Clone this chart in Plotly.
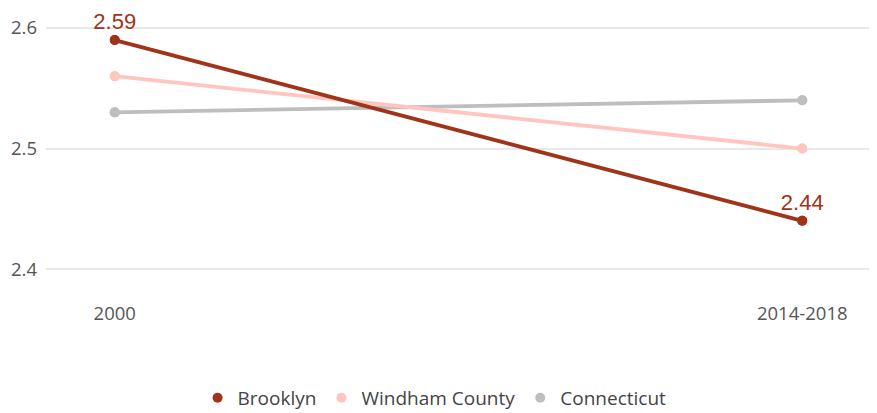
import plotly.graph_objects as go

years = ["2000", "2014-2018"]
brooklyn = [2.59, 2.44]
windham = [2.56, 2.50]
connecticut = [2.53, 2.54]
brooklyn_labels = ["2.59", "2.44"]

names = ["Brooklyn", "Windham County", "Connecticut"]
colors = ["#A0341A", "#FFC5BE", "#BEBEBE"]
series = [brooklyn, windham, connecticut]

fig = go.Figure()
for i in [2, 1, 0]:
    fig.add_trace(go.Scatter(
        x=years, y=series[i], mode="lines+markers",
        line=dict(color=colors[i], width=3.8),
        marker=dict(color=colors[i], size=10),
        showlegend=False, hoverinfo="skip",
    ))
for i in range(3):
    fig.add_trace(go.Scatter(
        x=years, y=series[i], mode="markers",
        marker=dict(color=colors[i], size=10),
        name=names[i], showlegend=True, hoverinfo="skip",
    ))

fig.add_trace(go.Scatter(
    x=years, y=brooklyn, mode="markers+text", text=brooklyn_labels,
    textposition="top center", cliponaxis=False,
    marker=dict(size=7, opacity=0),
    textfont=dict(family="Liberation Sans, Arial", size=22, color=colors[0]),
    showlegend=False, hoverinfo="skip",
))

fig.update_layout(
    width=869, height=413,
    margin=dict(l=38, r=6, t=0, b=121),
    paper_bgcolor="white", plot_bgcolor="white",
    font=dict(family="Open Sans", size=18.5, color="#555555"),
    xaxis=dict(type="category", range=[-0.1, 1.1], showgrid=False,
               zeroline=False, showline=False, ticks="",
               tickfont=dict(family="Open Sans", size=18.5, color="#555555")),
    yaxis=dict(range=[2.3743, 2.6166], tickvals=[2.4, 2.5, 2.6],
               ticktext=["2.4", "2.5", "2.6"],
               showgrid=True, gridcolor="#E8E8E8", gridwidth=2,
               zeroline=False, showline=False, ticks="",
               ticklabelstandoff=8,
               tickfont=dict(family="Open Sans", size=18.5, color="#555555")),
    legend=dict(orientation="h", x=0.471, xanchor="center", y=-0.2705, yanchor="top",
                font=dict(family="Open Sans", size=19, color="#444444")),
)

fig.write_html("out.html")
